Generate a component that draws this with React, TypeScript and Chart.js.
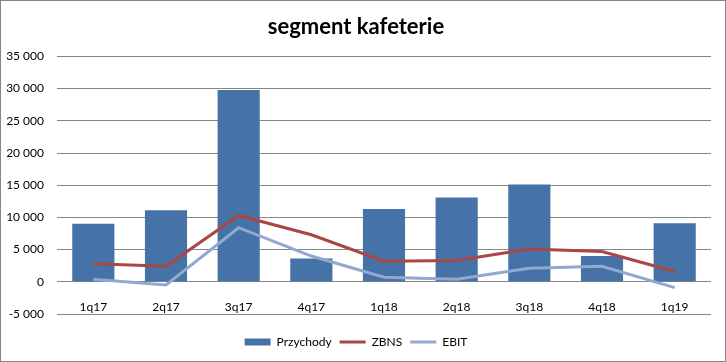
import React, { useEffect, useRef } from "react";
import { Chart, registerables } from "chart.js";

Chart.register(...registerables);

const categories = ["1q17", "2q17", "3q17", "4q17", "1q18", "2q18", "3q18", "4q18", "1q19"];
const przychody = [9000, 11100, 29800, 3600, 11300, 13100, 15100, 4000, 9100];
const zbns = [2800, 2400, 10300, 7300, 3200, 3300, 5100, 4700, 1600];
const ebit = [400, -500, 8400, 4000, 700, 400, 2100, 2400, -900];
const yTicks = [-5000, 0, 5000, 10000, 15000, 20000, 25000, 30000, 35000];

const BAR = "#4572A7";
const RED = "#AA4643";
const LIGHT = "#91A8D0";

function fmt(v: number): string {
  const s = String(Math.abs(v)).replace(/\B(?=(\d{3})+(?!\d))/g, " ");
  return (v < 0 ? "-" : "") + s;
}

export default function App() {
  const ref = useRef<HTMLCanvasElement>(null);
  useEffect(() => {
    if (!ref.current) return;
    const font = { family: "Lato", size: 12 };
    const chart = new Chart(ref.current, {
      type: "bar",
      data: {
        labels: categories,
        datasets: [
          {
            type: "bar",
            label: "Przychody",
            data: przychody,
            backgroundColor: BAR,
            borderWidth: 0,
            categoryPercentage: 1,
            barPercentage: 0.58,
            order: 2,
          },
          {
            type: "line",
            label: "ZBNS",
            data: zbns,
            borderColor: RED,
            backgroundColor: RED,
            borderWidth: 3,
            pointRadius: 0,
            tension: 0,
            order: 1,
          },
          {
            type: "line",
            label: "EBIT",
            data: ebit,
            borderColor: LIGHT,
            backgroundColor: LIGHT,
            borderWidth: 3,
            pointRadius: 0,
            tension: 0,
            order: 0,
          },
        ] as any,
      },
      options: {
        responsive: false,
        animation: false,
        devicePixelRatio: 1,
        layout: { padding: { left: 0, right: 14, top: 0, bottom: 3 } },
        plugins: {
          tooltip: { enabled: false },
          title: {
            display: true,
            text: "segment kafeterie",
            color: "#000",
            font: { family: "Lato", size: 22, weight: "bold" },
            padding: { top: 13, bottom: 16 },
          },
          legend: {
            display: true,
            position: "bottom",
            labels: {
              color: "#000",
              font,
              usePointStyle: true,
              pointStyleWidth: 26,
              boxHeight: 7,
              padding: 8,
              generateLabels: (c: any) =>
                c.data.datasets.map((ds: any, i: number) => ({
                  text: ds.label,
                  fillStyle: ds.type === "bar" ? ds.backgroundColor : ds.borderColor,
                  strokeStyle: ds.type === "bar" ? ds.backgroundColor : ds.borderColor,
                  lineWidth: ds.type === "bar" ? 0 : 3,
                  pointStyle: ds.type === "bar" ? "rect" : "line",
                  fontColor: "#000",
                  hidden: false,
                  datasetIndex: i,
                })),
            },
          },
        },
        scales: {
          x: {
            type: "category",
            position: { y: 0 } as any,
            grid: { display: false },
            border: { display: false },
            ticks: { color: "#000", font, padding: 10, maxRotation: 0 },
          },
          x2: {
            type: "category",
            position: "bottom",
            display: true,
            grid: { display: false },
            border: { display: false },
            ticks: { display: false },
            afterFit: (s: any) => {
              s.height = 14;
            },
          } as any,
          y: {
            min: -5000,
            max: 35000,
            afterBuildTicks: (s: any) => {
              s.ticks = yTicks.map((v) => ({ value: v }));
            },
            afterFit: (s: any) => {
              s.width = 56;
            },
            grid: { color: "#868686", lineWidth: 1, drawTicks: false },
            border: { display: false },
            ticks: {
              color: "#000",
              font,
              padding: 13,
              callback: (v: any) => fmt(Number(v)),
            },
          },
        },
      },
    });
    return () => chart.destroy();
  }, []);
  return (
    <div
      style={{
        position: "fixed",
        left: 0,
        top: 0,
        width: 726,
        height: 362,
        boxSizing: "border-box",
        border: "1px solid #868686",
        background: "#fff",
      }}
    >
      <canvas ref={ref} width={724} height={360} style={{ display: "block", width: 724, height: 360 }} />
    </div>
  );
}
